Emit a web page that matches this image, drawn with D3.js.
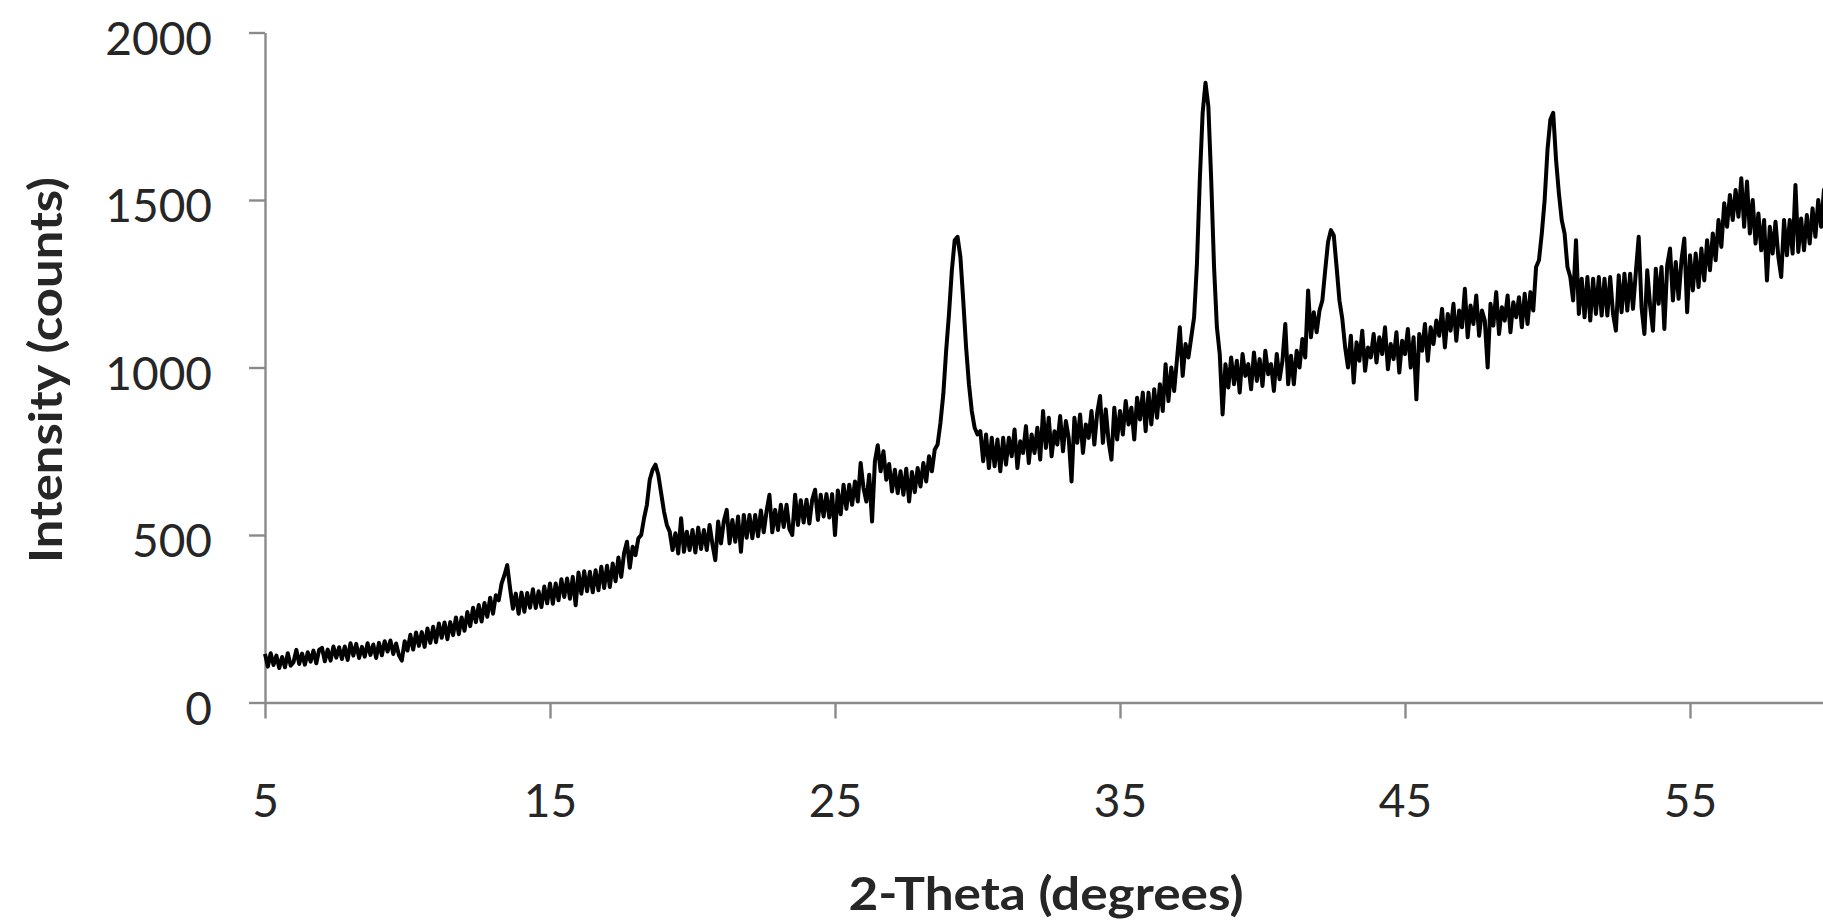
<!DOCTYPE html>
<html>
<head>
<meta charset="utf-8">
<script src="https://cdn.jsdelivr.net/npm/d3@7"></script>
<style>
  html, body { margin: 0; padding: 0; background: #ffffff; }
  svg { display: block; }
</style>
</head>
<body>
<svg id="chart" width="1823" height="921"></svg>
<script>
// Diffraction scan: first 2-theta angle and step size (degrees)
const thetaStart = 5;
const thetaStep = 0.1;

// Measured intensity (counts), one value per 0.1 degree from 5.0 to 60.0
const intensity = [
  145, 107, 147, 112, 140, 103, 136, 105, 147, 110,   // 5
  120, 157, 115, 146, 113, 150, 122, 155, 117, 157,   // 6
  163, 123, 158, 125, 167, 134, 165, 130, 167, 127,   // 7
  177, 140, 175, 133, 166, 137, 177, 142, 173, 133,   // 8
  178, 141, 183, 152, 185, 145, 176, 141, 125, 183,   // 9
  155, 202, 158, 209, 169, 210, 166, 221, 178, 226,   // 10
  180, 236, 193, 239, 189, 240, 201, 254, 204, 254,   // 11
  214, 270, 228, 283, 240, 291, 242, 297, 256, 313,   // 12
  265, 320, 305, 355, 380, 410, 340, 280, 325, 265,   // 13
  328, 271, 327, 283, 338, 282, 332, 285, 346, 296,   // 14
  355, 295, 355, 305, 368, 315, 370, 310, 375, 290,   // 15
  388, 325, 392, 332, 390, 329, 395, 335, 405, 342,   // 16
  408, 345, 415, 362, 433, 375, 446, 480, 402, 465,   // 17
  440, 490, 500, 550, 590, 665, 695, 710, 680, 625,   // 18
  570, 530, 510, 455, 505, 445, 550, 450, 510, 455,   // 19
  515, 448, 522, 458, 515, 455, 530, 472, 425, 540,   // 20
  475, 542, 575, 475, 545, 480, 555, 450, 560, 492,   // 21
  560, 490, 560, 496, 573, 508, 572, 620, 508, 575,   // 22
  515, 590, 524, 590, 518, 500, 620, 530, 604, 537,   // 23
  605, 534, 605, 635, 545, 620, 555, 622, 552, 622,   // 24
  500, 633, 562, 650, 578, 650, 590, 660, 600, 715,   // 25
  640, 600, 680, 540, 720, 768, 690, 750, 665, 712,   // 26
  630, 695, 625, 690, 620, 698, 600, 688, 628, 700,   // 27
  645, 715, 660, 735, 690, 755, 770, 835, 920, 1050,  // 28
  1160, 1290, 1380, 1390, 1330, 1200, 1060, 950, 870, 820, // 29
  800, 810, 720, 800, 700, 790, 705, 785, 690, 790,   // 30
  710, 790, 735, 815, 700, 780, 745, 825, 715, 800,   // 31
  745, 820, 725, 870, 760, 850, 735, 810, 770, 855,   // 32
  750, 840, 790, 660, 850, 775, 860, 745, 830, 790,   // 33
  870, 770, 865, 915, 775, 875, 780, 725, 880, 785,   // 34
  870, 800, 900, 830, 880, 785, 910, 845, 925, 810,   // 35
  925, 830, 935, 850, 950, 870, 1010, 900, 1000, 930, // 36
  1025, 1120, 975, 1070, 1030, 1090, 1150, 1310, 1560, 1760,  // 37
  1850, 1780, 1560, 1300, 1120, 1040, 860, 1010, 940, 1030,   // 38
  950, 1020, 925, 1040, 975, 1010, 935, 1045, 960, 1025,      // 39
  945, 1050, 980, 1010, 930, 1040, 965, 1020, 1130, 950,      // 40
  1035, 950, 1050, 1000, 1085, 1030, 1230, 1090, 1165, 1105,  // 41
  1170, 1200, 1290, 1375, 1410, 1395, 1300, 1200, 1145, 1060, // 42
  1000, 1095, 955, 1075, 1020, 1110, 990, 1060, 1030, 1100,   // 43
  1015, 1090, 1040, 1120, 995, 1070, 1025, 1105, 985, 1080,   // 44
  1040, 1115, 1000, 1090, 905, 1100, 1050, 1130, 1020, 1120,  // 45
  1070, 1140, 1095, 1175, 1060, 1160, 1110, 1190, 1080, 1170, // 46
  1120, 1235, 1090, 1185, 1130, 1215, 1095, 1170, 1140, 1000, // 47
  1190, 1125, 1225, 1100, 1180, 1140, 1215, 1105, 1195, 1150, // 48
  1210, 1120, 1220, 1130, 1225, 1170, 1300, 1320, 1400, 1500, // 49
  1650, 1740, 1760, 1620, 1520, 1440, 1400, 1300, 1270, 1200, // 50
  1380, 1160, 1265, 1150, 1270, 1140, 1265, 1160, 1270, 1155, // 51
  1265, 1155, 1270, 1160, 1110, 1275, 1165, 1280, 1170, 1280, // 52
  1175, 1285, 1390, 1180, 1100, 1290, 1185, 1110, 1295, 1190, // 53
  1300, 1115, 1305, 1355, 1200, 1315, 1205, 1320, 1385, 1165, // 54
  1335, 1230, 1340, 1240, 1355, 1260, 1380, 1290, 1400, 1320, // 55
  1440, 1360, 1490, 1420, 1515, 1440, 1530, 1450, 1565, 1420, // 56
  1555, 1400, 1500, 1370, 1460, 1350, 1440, 1260, 1420, 1340, // 57
  1435, 1330, 1270, 1440, 1335, 1440, 1340, 1545, 1345, 1445, // 58
  1350, 1455, 1370, 1475, 1390, 1500, 1420, 1530, 1450, 1560, // 59
  1500                                                        // 60
];

// Axis ticks and titles
const xTicks = [5, 15, 25, 35, 45, 55];
const yTicks = [0, 500, 1000, 1500, 2000];
const xTitle = "2-Theta (degrees)";
const yTitle = "Intensity (counts)";

const svg = d3.select("#chart");

const x = d3.scaleLinear().domain([5, 65]).range([265, 1975]);
const y = d3.scaleLinear().domain([0, 2000]).range([702.5, 32.5]);

const axisColor = "#8a8a8a";
const labelColor = "#262626";
const fontStack = "Lato, 'Open Sans', sans-serif";

// X axis
const gx = svg.append("g")
  .attr("transform", `translate(0,${y(0)})`)
  .call(d3.axisBottom(x).tickValues(xTicks).tickFormat(d3.format("d"))
    .tickSize(16).tickSizeOuter(0).tickPadding(66));

// Y axis
const gy = svg.append("g")
  .attr("transform", `translate(${x(5)},0)`)
  .call(d3.axisLeft(y).tickValues(yTicks).tickFormat(d3.format("d"))
    .tickSize(16).tickSizeOuter(0).tickPadding(37));

[gx, gy].forEach(g => {
  g.select(".domain").attr("stroke", axisColor).attr("stroke-width", 2.4);
  g.selectAll(".tick line").attr("stroke", axisColor).attr("stroke-width", 2.4);
  g.selectAll(".tick text")
    .attr("fill", labelColor)
    .style("font-size", "46px")
    .style("font-family", fontStack);
});
gy.selectAll(".tick text").attr("dy", "0.47em");

// Diffraction pattern
const line = d3.line()
  .x((d, i) => x(thetaStart + i * thetaStep))
  .y(d => y(d));

svg.append("path")
  .datum(intensity)
  .attr("d", line)
  .attr("fill", "none")
  .attr("stroke", "#000")
  .attr("stroke-width", 4)
  .attr("stroke-linejoin", "round");

// Axis titles
svg.append("text")
  .attr("x", 1046)
  .attr("y", 910)
  .attr("text-anchor", "middle")
  .attr("textLength", 395)
  .attr("lengthAdjust", "spacingAndGlyphs")
  .style("font-family", fontStack)
  .style("font-weight", "bold")
  .style("font-size", "46px")
  .attr("fill", labelColor)
  .text(xTitle);

svg.append("text")
  .attr("transform", "translate(62,370) rotate(-90)")
  .attr("text-anchor", "middle")
  .attr("textLength", 386)
  .attr("lengthAdjust", "spacingAndGlyphs")
  .style("font-family", fontStack)
  .style("font-weight", "bold")
  .style("font-size", "46px")
  .attr("fill", labelColor)
  .text(yTitle);
</script>
</body>
</html>
